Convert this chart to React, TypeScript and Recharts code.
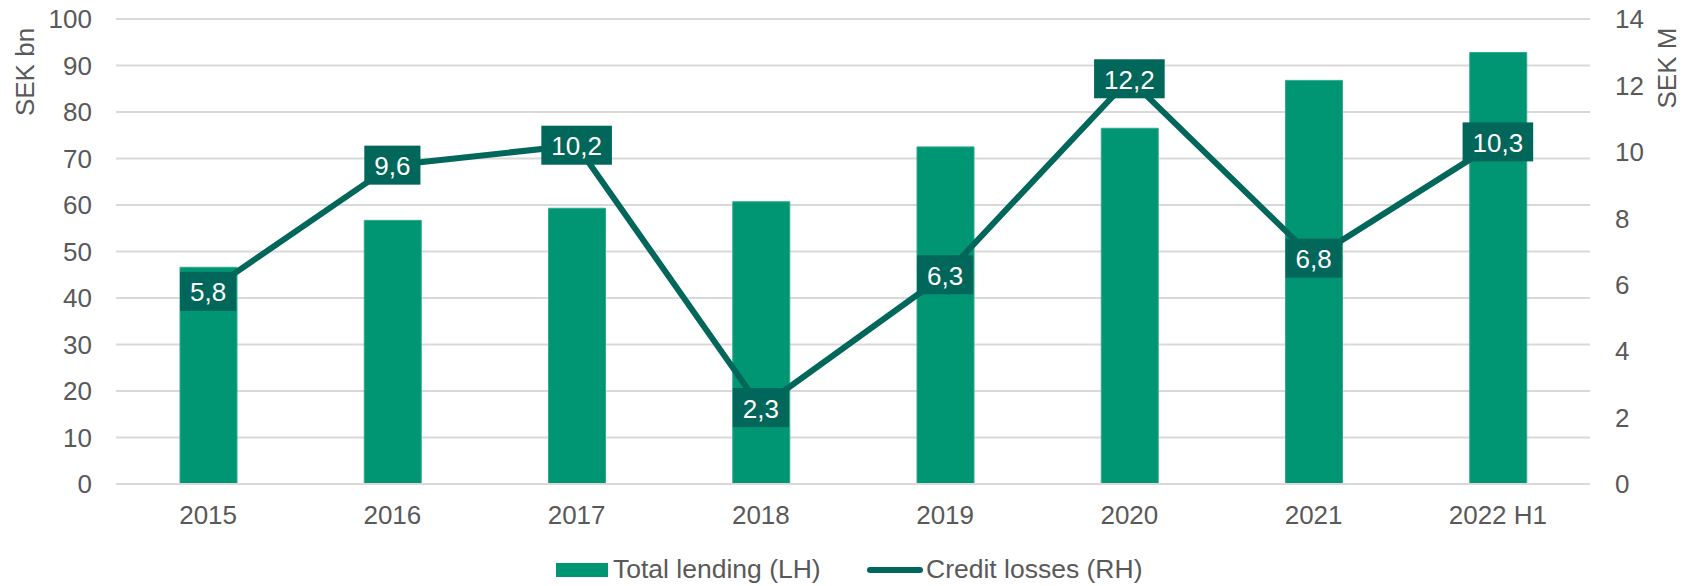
import React from 'react';
import {
  ComposedChart, Bar, Line, XAxis, YAxis, CartesianGrid, LabelList, Label
} from 'recharts';

const years = ['2015', '2016', '2017', '2018', '2019', '2020', '2021', '2022 H1'];
const totalLending = [46.6, 56.7, 59.3, 60.7, 72.5, 76.5, 86.8, 92.8];
const creditLosses = [5.8, 9.6, 10.2, 2.3, 6.3, 12.2, 6.8, 10.3];
const leftTicks = [0, 10, 20, 30, 40, 50, 60, 70, 80, 90, 100];
const rightTicks = [0, 2, 4, 6, 8, 10, 12, 14];

const data = years.map((name, i) => ({
  name,
  lending: totalLending[i],
  losses: creditLosses[i],
}));

const FONT = '"Liberation Sans", Arial, sans-serif';
const TEXT = '#595959';
const BAR = '#009673';
const LINE = '#00675a';
const GRID = '#d9d9d9';
const FS = 26;

const fmt = (v: number) => String(v).replace('.', ',');

// rough Arial width: digits .556em, comma .278em
const textWidth = (s: string) =>
  s.split('').reduce((w, c) => w + (c === ',' ? 0.278 : 0.556), 0) * FS;

const ValueBox = (props: any) => {
  const { x, y, value } = props;
  const s = fmt(value);
  const w = textWidth(s) + 20;
  const h = 39;
  return (
    <g>
      <rect x={x - w / 2} y={y - h / 2} width={w} height={h} fill={LINE} />
      <text x={x} y={y + 1} textAnchor="middle" dominantBaseline="central"
        fill="#fff" fontSize={FS} fontFamily={FONT}>{s}</text>
    </g>
  );
};

const axisTitle = (text: string, dx: number, dy: number) => (props: any) => {
  const { x, y } = props.viewBox;
  const cx = x + dx;
  const cy = y + dy;
  return (
    <text x={cx} y={cy} transform={`rotate(-90, ${cx}, ${cy})`} textAnchor="middle"
      dominantBaseline="central" fill={TEXT} fontSize={FS} fontFamily={FONT}>{text}</text>
  );
};

const tickStyle = { fill: TEXT, fontSize: FS, fontFamily: FONT };

export default function App() {
  return (
    <div style={{ position: 'absolute', left: 0, top: 0, width: 1691, height: 586, background: '#fff' }}>
      <ComposedChart width={1691} height={586} data={data}
        margin={{ top: 19, right: 0, bottom: 0, left: 0 }}>
        <CartesianGrid yAxisId="left" vertical={false} stroke={GRID} strokeWidth={2} />
        <XAxis dataKey="name" height={102} tick={tickStyle} tickLine={false}
          axisLine={{ stroke: GRID, strokeWidth: 2 }} tickMargin={16} interval={0} />
        <YAxis yAxisId="left" orientation="left" width={116} domain={[0, 100]} ticks={leftTicks}
          tick={tickStyle} axisLine={false} tickLine={false} tickMargin={18} interval={0}>
          <Label content={axisTitle('SEK bn', 25, 53)} />
        </YAxis>
        <YAxis yAxisId="right" orientation="right" width={101} domain={[0, 14]} ticks={rightTicks}
          tick={{ ...tickStyle, textAnchor: 'start' }} axisLine={false} tickLine={false} tickMargin={19} interval={0}>
          <Label content={axisTitle('SEK M', 77, 49)} />
        </YAxis>
        <Bar yAxisId="left" dataKey="lending" fill={BAR} stroke="#33a98c" strokeWidth={1}
          barSize={57} isAnimationActive={false} />
        <Line yAxisId="right" dataKey="losses" type="linear" stroke={LINE} strokeWidth={6}
          strokeLinejoin="round" dot={false} activeDot={false} isAnimationActive={false}>
          <LabelList dataKey="losses" content={ValueBox} />
        </Line>
      </ComposedChart>
      <div style={{ position: 'absolute', left: 556, top: 563, width: 52, height: 14, background: BAR }} />
      <div style={{ position: 'absolute', left: 613, top: 554, height: 30, lineHeight: '30px',
        fontFamily: FONT, fontSize: 26.5, color: TEXT, whiteSpace: 'nowrap' }}>Total lending (LH)</div>
      <div style={{ position: 'absolute', left: 867, top: 567, width: 56, height: 6, borderRadius: 3, background: LINE }} />
      <div style={{ position: 'absolute', left: 926, top: 554, height: 30, lineHeight: '30px',
        fontFamily: FONT, fontSize: 26.5, color: TEXT, whiteSpace: 'nowrap' }}>Credit losses (RH)</div>
    </div>
  );
}
